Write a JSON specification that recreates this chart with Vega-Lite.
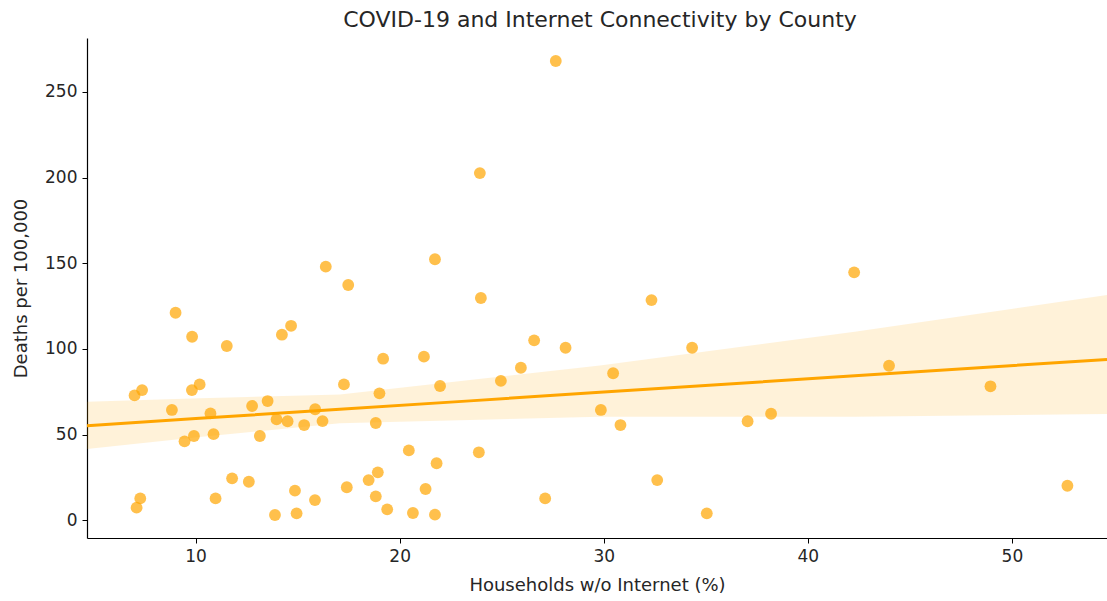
{
  "$schema": "https://vega.github.io/schema/vega-lite/v6.json",
  "autosize": "none",
  "width": 1020,
  "height": 500,
  "padding": {"left": 87, "top": 38, "right": 0, "bottom": 63},
  "background": "white",
  "config": {
    "view": {"stroke": null},
    "font": "DejaVu Sans",
    "axis": {
      "grid": false,
      "domainColor": "#000000",
      "domainWidth": 1.2,
      "tickColor": "#000000",
      "tickSize": 5,
      "tickWidth": 1,
      "labelFont": "DejaVu Sans",
      "labelFontSize": 17,
      "labelColor": "#262626",
      "titleFont": "DejaVu Sans",
      "titleFontSize": 18,
      "titleFontWeight": "normal",
      "titleColor": "#262626",
      "labelPadding": 5
    }
  },
  "title": {
    "text": "COVID-19 and Internet Connectivity by County",
    "font": "DejaVu Sans",
    "fontSize": 22,
    "fontWeight": "normal",
    "color": "#262626",
    "anchor": "middle",
    "offset": 6,
    "dx": 3
  },
  "datasets": {
    "pts": [
      {"x": 16.38, "y": 148.0}, {"x": 17.48, "y": 137.3}, {"x": 9.02, "y": 121.1}, {"x": 9.83, "y": 107.1},
      {"x": 11.53, "y": 101.7}, {"x": 14.23, "y": 108.3}, {"x": 14.68, "y": 113.5}, {"x": 7.01, "y": 72.9},
      {"x": 7.38, "y": 76.0}, {"x": 9.82, "y": 76.0}, {"x": 10.2, "y": 79.3}, {"x": 17.27, "y": 79.3},
      {"x": 8.84, "y": 64.4}, {"x": 10.73, "y": 62.4}, {"x": 12.77, "y": 66.7}, {"x": 13.53, "y": 69.6},
      {"x": 13.97, "y": 58.9}, {"x": 14.51, "y": 57.8}, {"x": 15.32, "y": 55.6}, {"x": 15.86, "y": 64.8},
      {"x": 16.22, "y": 57.9}, {"x": 9.46, "y": 46.1}, {"x": 9.92, "y": 49.2}, {"x": 10.88, "y": 50.3},
      {"x": 13.15, "y": 49.2}, {"x": 11.79, "y": 24.5}, {"x": 12.61, "y": 22.5}, {"x": 7.29, "y": 12.8},
      {"x": 7.11, "y": 7.4}, {"x": 10.98, "y": 12.8}, {"x": 14.87, "y": 17.3}, {"x": 15.85, "y": 11.8},
      {"x": 13.89, "y": 3.1}, {"x": 14.95, "y": 4.1}, {"x": 17.41, "y": 19.3}, {"x": 21.73, "y": 152.3},
      {"x": 23.98, "y": 129.7}, {"x": 26.59, "y": 105.0}, {"x": 28.13, "y": 100.7}, {"x": 19.19, "y": 94.3},
      {"x": 21.19, "y": 95.5}, {"x": 25.94, "y": 89.0}, {"x": 24.96, "y": 81.4}, {"x": 21.98, "y": 78.4},
      {"x": 19.01, "y": 74.1}, {"x": 18.83, "y": 56.8}, {"x": 29.86, "y": 64.4}, {"x": 20.45, "y": 40.8},
      {"x": 23.88, "y": 39.7}, {"x": 21.81, "y": 33.3}, {"x": 18.93, "y": 28.0}, {"x": 18.48, "y": 23.5},
      {"x": 21.27, "y": 18.3}, {"x": 18.83, "y": 14.0}, {"x": 27.13, "y": 12.8}, {"x": 19.39, "y": 6.4},
      {"x": 20.65, "y": 4.3}, {"x": 21.73, "y": 3.3}, {"x": 23.93, "y": 202.6}, {"x": 27.65, "y": 268.0},
      {"x": 42.27, "y": 144.7}, {"x": 32.34, "y": 128.5}, {"x": 34.33, "y": 100.7}, {"x": 30.46, "y": 85.8},
      {"x": 43.98, "y": 90.2}, {"x": 48.95, "y": 78.2}, {"x": 30.82, "y": 55.6}, {"x": 37.05, "y": 57.8},
      {"x": 38.2, "y": 62.2}, {"x": 32.62, "y": 23.5}, {"x": 35.05, "y": 4.1}, {"x": 52.72, "y": 20.2}
    ],
    "fit": [
      {"x": 4.68, "fit": 55.2, "lo": 41.6, "hi": 69.2},
      {"x": 10.2, "fit": 59.5, "lo": 48.6, "hi": 71.2},
      {"x": 17.07, "fit": 64.8, "lo": 56.6, "hi": 73.4},
      {"x": 23.44, "fit": 69.7, "lo": 58.5, "hi": 81.9},
      {"x": 29.81, "fit": 74.7, "lo": 60.4, "hi": 90.3},
      {"x": 42.3, "fit": 84.3, "lo": 60.4, "hi": 110.0},
      {"x": 54.66, "fit": 93.9, "lo": 62.0, "hi": 131.4}
    ]
  },
  "encoding": {
    "x": {
      "field": "x", "type": "quantitative",
      "scale": {"domain": [4.68, 54.66], "nice": false, "zero": false},
      "axis": {"title": "Households w/o Internet (%)", "values": [10, 20, 30, 40, 50], "titlePadding": 12}
    }
  },
  "layer": [
    {
      "data": {"name": "pts"},
      "mark": {"type": "circle", "size": 140, "color": "#FFA500", "opacity": 0.7},
      "encoding": {
        "y": {
          "field": "y", "type": "quantitative",
          "scale": {"domain": [-10.3, 281.4], "nice": false, "zero": false},
          "axis": {"title": "Deaths per 100,000", "values": [0, 50, 100, 150, 200, 250], "titlePadding": 14}
        }
      }
    },
    {
      "data": {"name": "fit"},
      "mark": {"type": "area", "color": "#FFA500", "opacity": 0.15},
      "encoding": {
        "y": {"field": "lo", "type": "quantitative"},
        "y2": {"field": "hi"}
      }
    },
    {
      "data": {"name": "fit"},
      "mark": {"type": "line", "color": "#FFA500", "strokeWidth": 3},
      "encoding": {
        "y": {"field": "fit", "type": "quantitative"}
      }
    }
  ]
}
